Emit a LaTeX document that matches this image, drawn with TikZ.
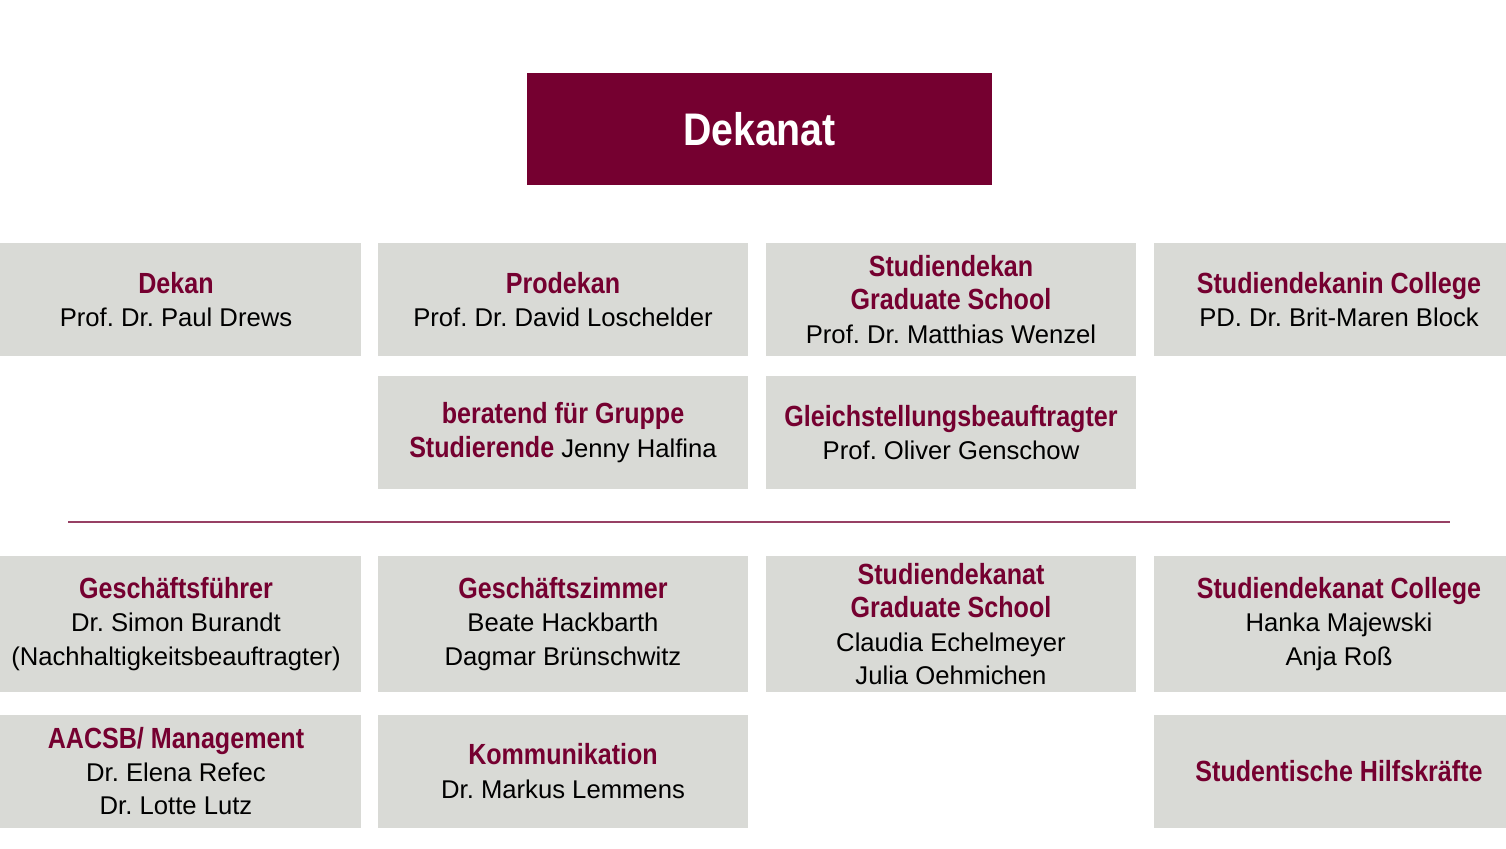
\documentclass[tikz,border=0pt]{standalone}
\usepackage{fontspec}
\usepackage{tikz}
\setmainfont{Liberation Sans}
\newfontfamily\hdfont{Liberation Sans}[FakeStretch=0.86]
\definecolor{dkred}{HTML}{750030}
\definecolor{boxgray}{HTML}{D9DAD6}
\newcommand{\hd}[1]{{\fontsize{16.6}{19}\selectfont\hdfont\bfseries\color{dkred}#1}}
\frenchspacing

\begin{document}
\begin{tikzpicture}[x=0.02cm,y=-0.02cm]
  \tikzset{unit/.style = {fill=boxgray,minimum width=7.4cm,minimum height=2.26cm,inner sep=2pt,align=center,font=\fontsize{14.6}{19}\selectfont}}
  \tikzset{tallunit/.style = {unit,minimum height=2.72cm}}
  \tikzset{head/.style = {fill=dkred,text=white,minimum width=9.3cm,minimum height=2.26cm,font=\fontsize{26}{30}\selectfont\hdfont\bfseries}}

  \useasboundingbox (0,0) rectangle (1506,848);
  \clip (0,0) rectangle (1506,848);

	\node[head] (dekanat) at (759.5,129) {Dekanat};

	% Dekanat
	\node[unit] (dekan) at (176,299.5) {\hd{Dekan}\\Prof. Dr. Paul Drews};
	\node[unit] (prodekan) at (563,299.5) {\hd{Prodekan}\\Prof. Dr. David Loschelder};
	\node[unit] (studdekan) at (951,299.5) {\hd{Studiendekan}\\\hd{Graduate School}\\Prof. Dr. Matthias Wenzel};
	\node[unit] (college) at (1339,299.5) {\hd{Studiendekanin College}\\PD. Dr. Brit-Maren Block};
	\node[unit] (beratend) at (563,432.5) {\hd{beratend für Gruppe}\\\hd{Studierende} Jenny Halfina};
	\node[unit] (gleich) at (951,432.5) {\hd{Gleichstellungsbeauftragter}\\Prof. Oliver Genschow};

	\coordinate (sepL) at (68,522);
	\coordinate (sepR) at (1450,522);
	\draw[dkred!75,line width=0.8pt] (sepL) -- (sepR);

	% Mitarbeitende
	\node[tallunit] (gf) at (176,624) {\hd{Geschäftsführer}\\Dr. Simon Burandt\\(Nachhaltigkeitsbeauftragter)};
	\node[tallunit] (gz) at (563,624) {\hd{Geschäftszimmer}\\Beate Hackbarth\\Dagmar Brünschwitz};
	\node[tallunit] (sdgs) at (951,624) {\hd{Studiendekanat}\\\hd{Graduate School}\\Claudia Echelmeyer\\Julia Oehmichen};
	\node[tallunit] (sdcollege) at (1339,624) {\hd{Studiendekanat College}\\Hanka Majewski\\Anja Roß};
	\node[unit] (aacsb) at (176,771) {\hd{AACSB/ Management}\\Dr. Elena Refec\\Dr. Lotte Lutz};
	\node[unit] (komm) at (563,771) {\hd{Kommunikation}\\Dr. Markus Lemmens};
	\node[unit] (hilfs) at (1339,771) {\hd{Studentische Hilfskräfte}};
\end{tikzpicture}
\end{document}
